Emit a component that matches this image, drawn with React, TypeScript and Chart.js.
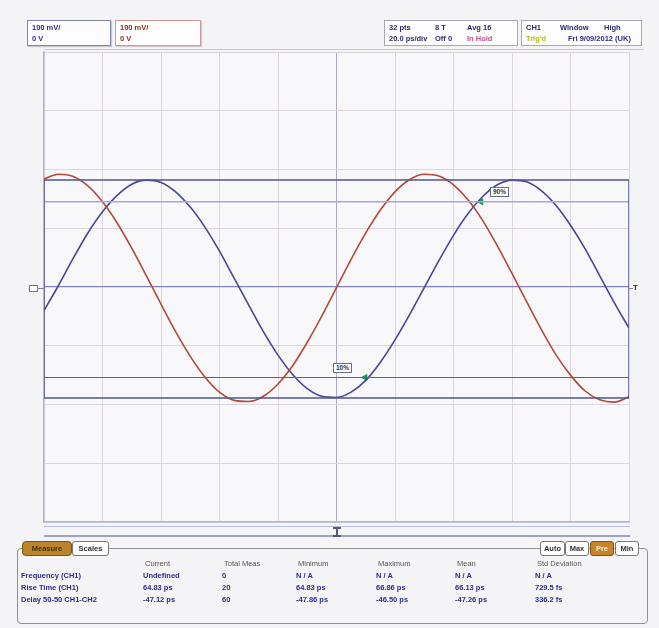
import React, { useEffect, useRef } from "react";
import { Chart, registerables } from "chart.js";
Chart.register(...registerables);

// time axis in divisions (10 div full screen)
const timeDiv = [0, 0.25, 0.5, 0.75, 1, 1.25, 1.5, 1.75, 2, 2.25, 2.5, 2.75, 3, 3.25, 3.5, 3.75, 4, 4.25, 4.5, 4.75, 5, 5.25, 5.5, 5.75, 6, 6.25, 6.5, 6.75, 7, 7.25, 7.5, 7.75, 8, 8.25, 8.5, 8.75, 9, 9.25, 9.5, 9.75, 10];
// CH2 (red) trace, in vertical divisions
const ch2Trace = [1.84, 1.92, 1.88, 1.72, 1.45, 1.09, 0.66, 0.19, -0.29, -0.76, -1.18, -1.53, -1.79, -1.93, -1.95, -1.86, -1.65, -1.34, -0.94, -0.49, -0.01, 0.47, 0.92, 1.31, 1.62, 1.83, 1.92, 1.89, 1.74, 1.48, 1.13, 0.70, 0.23, -0.25, -0.72, -1.15, -1.50, -1.77, -1.92, -1.96, -1.87];
// CH1 (blue) trace, in vertical divisions
const ch1Trace = [-0.40, 0.03, 0.49, 0.92, 1.28, 1.56, 1.75, 1.82, 1.78, 1.62, 1.36, 1.02, 0.61, 0.15, -0.31, -0.76, -1.16, -1.49, -1.73, -1.86, -1.88, -1.79, -1.59, -1.28, -0.90, -0.47, -0.01, 0.45, 0.88, 1.25, 1.54, 1.74, 1.82, 1.79, 1.64, 1.39, 1.05, 0.65, 0.19, -0.27, -0.70];
// CH1 window box (top, bottom) and 90% / 10% levels
const windowTop = 1.82;
const windowBottom = -1.89;
const level90 = 1.45;
const level10 = -1.54;
const marker90 = { x: 7.47, y: 1.45 };
const marker10 = { x: 5.49, y: -1.54 };
const xRange = [0, 10];
const yRange = [-4, 4];

// header texts
const ch1Scale = ["100 mV/", "0 V"];
const ch2Scale = ["100 mV/", "0 V"];
const acqRow1 = ["32 pts", "8 T", "Avg 16"];
const acqRow2 = ["20.0 ps/div", "Off 0", "In Hold"];
const trigRow1 = ["CH1", "Window", "High"];
const trigRow2 = ["Trig'd", "Fri 9/09/2012 (UK)"];

// measurement table
const measHeaders = ["Current", "Total Meas", "Minimum", "Maximum", "Mean", "Std Deviation"];
const measNames = ["Frequency (CH1)", "Rise Time (CH1)", "Delay 50-50  CH1-CH2"];
const measCurrent = ["Undefined", "64.83 ps", "-47.12 ps"];
const measTotal = ["0", "20", "60"];
const measMin = ["N / A", "64.83 ps", "-47.86 ps"];
const measMax = ["N / A", "66.86 ps", "-46.50 ps"];
const measMean = ["N / A", "66.13 ps", "-47.26 ps"];
const measStd = ["N / A", "729.5 fs", "336.2 fs"];

const FONT = '"Liberation Sans", Arial, sans-serif';

const abs = (l: number, t: number, extra: React.CSSProperties = {}): React.CSSProperties => ({
  position: "absolute",
  left: l,
  top: t,
  ...extra,
});

export default function App() {
  const ref = useRef<HTMLCanvasElement>(null);

  useEffect(() => {
    if (!ref.current) return;
    const pts = (ys: number[]) => timeDiv.map((x, i) => ({ x, y: ys[i] }));
    const hline = (y: number) => [{ x: xRange[0], y }, { x: xRange[1], y }];
    const bgPlugin = {
      id: "bg",
      beforeDraw(c: any) {
        const { ctx, chartArea: a } = c;
        ctx.save();
        ctx.fillStyle = "#f8f8fa";
        ctx.fillRect(a.left, a.top, a.right - a.left, a.bottom - a.top);
        ctx.restore();
      },
    };
    const chart = new Chart(ref.current, {
      type: "line",
      data: {
        datasets: [
          {
            data: [
              { x: xRange[0], y: windowBottom },
              { x: xRange[0], y: windowTop },
              { x: xRange[1], y: windowTop },
              { x: xRange[1], y: windowBottom },
              { x: xRange[0], y: windowBottom },
            ],
            borderColor: "#50548a",
            borderWidth: 1.5,
            pointRadius: 0,
            tension: 0,
          },
          { data: hline(level90), borderColor: "#a6a6dc", borderWidth: 1.5, pointRadius: 0 },
          { data: hline(level10), borderColor: "#5f6478", borderWidth: 1.2, pointRadius: 0 },
          {
            data: pts(ch2Trace),
            borderColor: "#b24a38",
            borderWidth: 1.6,
            pointRadius: 0,
            cubicInterpolationMode: "monotone",
          },
          {
            data: pts(ch1Trace),
            borderColor: "#474794",
            borderWidth: 1.6,
            pointRadius: 0,
            cubicInterpolationMode: "monotone",
          },
          {
            data: [marker90, marker10],
            showLine: false,
            pointStyle: "triangle",
            pointRadius: 3.5,
            pointRotation: 30,
            backgroundColor: "#23905a",
            borderColor: "#23905a",
          },
        ],
      },
      options: {
        responsive: false,
        animation: false,
        events: [],
        layout: { padding: { left: 44, top: 52, right: 30, bottom: 106 } },
        plugins: { legend: { display: false }, tooltip: { enabled: false } },
        scales: {
          x: {
            type: "linear",
            min: xRange[0],
            max: xRange[1],
            ticks: { display: false, stepSize: 1 },
            grid: {
              drawTicks: false,
              color: (c: any) => (c.tick && c.tick.value === 5 ? "#a9a9cf" : "#ddd6de"),
              lineWidth: 1,
            },
            border: { display: true, color: "#aeb6d2", width: 1.5 },
          },
          y: {
            type: "linear",
            min: yRange[0],
            max: yRange[1],
            ticks: { display: false, stepSize: 1 },
            grid: {
              drawTicks: false,
              color: (c: any) => (c.tick && c.tick.value === 0 ? "#7f7fbc" : "#ddd6de"),
              lineWidth: (c: any) => (c.tick && c.tick.value === 0 ? 1.3 : 1),
            },
            border: { display: true, color: "#aeb6d2", width: 1.5 },
          },
        },
      },
      plugins: [bgPlugin],
    } as any);
    return () => chart.destroy();
  }, []);

  const small: React.CSSProperties = { fontFamily: FONT, fontSize: 7.5, fontWeight: "bold", lineHeight: "9px", whiteSpace: "nowrap" };
  const colX = [143, 222, 296, 376, 455, 535];
  const rowsY = [571, 583, 595];
  const cols = [measCurrent, measTotal, measMin, measMax, measMean, measStd];

  return (
    <div style={{ position: "absolute", left: 0, top: 0, width: 659, height: 628, background: "#f4f4f6", overflow: "hidden" }}>
      <canvas ref={ref} width={659} height={628} style={{ position: "absolute", left: 0, top: 0, width: 659, height: 628 }} />

      {/* header line */}
      <div style={abs(44, 49, { width: 600, height: 1, background: "#c3cae0" })} />

      {/* channel scale boxes */}
      <div style={abs(27, 20, { width: 82, height: 24, border: "1px solid #7f84b3", background: "#fdfdff", boxShadow: "1px 1px 1px #c8c8d0" })}>
        <div style={{ ...small, ...abs(4, 2), color: "#2d2d8c" }}>{ch1Scale[0]}</div>
        <div style={{ ...small, ...abs(4, 13), color: "#2d2d8c" }}>{ch1Scale[1]}</div>
      </div>
      <div style={abs(115, 20, { width: 84, height: 24, border: "1px solid #cf9a94", background: "#fffdfd", boxShadow: "1px 1px 1px #d8c8c8" })}>
        <div style={{ ...small, ...abs(4, 2), color: "#8a2e22" }}>{ch2Scale[0]}</div>
        <div style={{ ...small, ...abs(4, 13), color: "#8a2e22" }}>{ch2Scale[1]}</div>
      </div>

      {/* acquisition box */}
      <div style={abs(384, 20, { width: 132, height: 24, border: "1px solid #a8a8b4", background: "#fdfdfd" })}>
        <div style={{ ...small, ...abs(4, 2), color: "#2d2d6c" }}>{acqRow1[0]}</div>
        <div style={{ ...small, ...abs(50, 2), color: "#2d2d6c" }}>{acqRow1[1]}</div>
        <div style={{ ...small, ...abs(82, 2), color: "#2d2d6c" }}>{acqRow1[2]}</div>
        <div style={{ ...small, ...abs(4, 13), color: "#2d2d6c" }}>{acqRow2[0]}</div>
        <div style={{ ...small, ...abs(50, 13), color: "#2d2d6c" }}>{acqRow2[1]}</div>
        <div style={{ ...small, ...abs(82, 13), color: "#c0508a" }}>{acqRow2[2]}</div>
      </div>

      {/* trigger box */}
      <div style={abs(521, 20, { width: 119, height: 24, border: "1px solid #a8a8b4", background: "#fdfdfd" })}>
        <div style={{ ...small, ...abs(4, 2), color: "#2d2d6c" }}>{trigRow1[0]}</div>
        <div style={{ ...small, ...abs(38, 2), color: "#2d2d6c" }}>{trigRow1[1]}</div>
        <div style={{ ...small, ...abs(82, 2), color: "#2d2d6c" }}>{trigRow1[2]}</div>
        <div style={{ ...small, ...abs(4, 13), color: "#b8b420" }}>{trigRow2[0]}</div>
        <div style={{ ...small, ...abs(46, 13), color: "#2d2d8c" }}>{trigRow2[1]}</div>
      </div>

      {/* channel ground marker and trigger marker */}
      <div style={abs(29, 285, { width: 7, height: 5, border: "1px solid #a8605a", background: "#fff" })} />
      <div style={abs(37, 287.5, { width: 7, height: 1, background: "#7f7fbc" })} />
      <div style={abs(629, 287.5, { width: 4, height: 1, background: "#7f7fbc" })} />
      <div style={{ ...small, ...abs(633, 283), color: "#333", fontSize: 8 }}>T</div>

      {/* 90% / 10% labels */}
      <div style={{ ...abs(490, 187, { border: "1px solid #6d6d7a", background: "#fff", padding: "0 2px" }), ...small, fontSize: 6.5, lineHeight: "8px", color: "#333" }}>90%</div>
      <div style={{ ...abs(333, 363, { border: "1px solid #6d6d7a", background: "#fff", padding: "0 2px" }), ...small, fontSize: 6.5, lineHeight: "8px", color: "#333" }}>10%</div>

      {/* horizontal position bar */}
      <div style={abs(44, 526, { width: 586, height: 1, background: "#b8bfd6" })} />
      <div style={abs(44, 535, { width: 586, height: 2, background: "#9aa3c0" })} />
      <div style={abs(336, 527, { width: 2, height: 10, background: "#555a70" })} />
      <div style={abs(333, 527, { width: 8, height: 1.5, background: "#555a70" })} />
      <div style={abs(333, 535, { width: 8, height: 1.5, background: "#555a70" })} />

      {/* measurement panel */}
      <div style={abs(17, 548, { width: 629, height: 74, border: "1px solid #8f8f9c", borderRadius: 4 })} />
      <div style={{ ...abs(22, 541, { width: 48, height: 13, background: "#b8852c", border: "1px solid #7a5410", borderRadius: 4, textAlign: "center" }), ...small, lineHeight: "13px", color: "#4a2e00" }}>Measure</div>
      <div style={{ ...abs(72, 541, { width: 35, height: 13, background: "#fff", border: "1px solid #777", borderRadius: 3, textAlign: "center" }), ...small, lineHeight: "13px", color: "#333" }}>Scales</div>
      <div style={{ ...abs(540, 541, { width: 23, height: 13, background: "#fff", border: "1px solid #777", borderRadius: 3, textAlign: "center" }), ...small, lineHeight: "13px", color: "#333" }}>Auto</div>
      <div style={{ ...abs(565, 541, { width: 22, height: 13, background: "#fff", border: "1px solid #777", borderRadius: 3, textAlign: "center" }), ...small, lineHeight: "13px", color: "#333" }}>Max</div>
      <div style={{ ...abs(590, 541, { width: 22, height: 13, background: "#c8842a", border: "1px solid #7a5410", borderRadius: 3, textAlign: "center" }), ...small, lineHeight: "13px", color: "#fff3d0" }}>Pre</div>
      <div style={{ ...abs(615, 541, { width: 22, height: 13, background: "#fff", border: "1px solid #777", borderRadius: 3, textAlign: "center" }), ...small, lineHeight: "13px", color: "#333" }}>Min</div>

      {measHeaders.map((h, i) => (
        <div key={"h" + i} style={{ ...small, ...abs(colX[i] + 2, 559), color: "#555", fontWeight: "normal" }}>{h}</div>
      ))}
      {measNames.map((n, r) => (
        <div key={"n" + r} style={{ ...small, ...abs(21, rowsY[r]), color: "#2b2b8e" }}>{n}</div>
      ))}
      {cols.map((col, c) =>
        col.map((v, r) => (
          <div key={c + "-" + r} style={{ ...small, ...abs(colX[c], rowsY[r]), color: "#2b2b8e" }}>{v}</div>
        ))
      )}
    </div>
  );
}
